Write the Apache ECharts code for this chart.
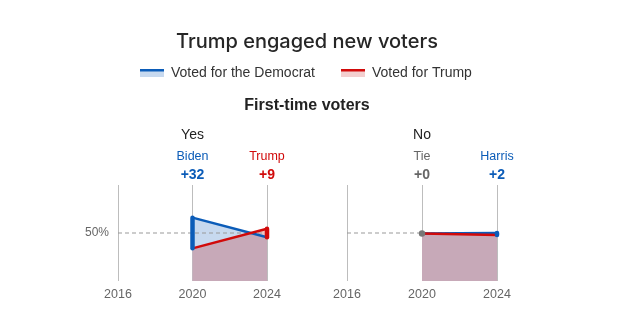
<!DOCTYPE html>
<html>
<head>
<meta charset="utf-8">
<script src="https://cdn.jsdelivr.net/npm/echarts@6/dist/echarts.min.js"></script>
<style>
  html, body { margin: 0; padding: 0; background: #fff; }
  #chart { width: 624px; height: 327px; }
</style>
</head>
<body>
<div id="chart"></div>
<script>
// Axis ticks and the election years that carry data
const axisYears = [2016, 2020, 2024];
const dataYears = [2020, 2024];

// Panel headings
const panelNames = ['Yes', 'No'];

// Vote share (%) of first-time voters, per panel, for 2020 and 2024
const demYes = [66, 45.5];
const repYes = [34, 54.5];
const demNo = [49.5, 50];
const repNo = [49.5, 48];

// Leading candidate named above each year
const leadersYes = ['Biden', 'Trump'];
const leadersNo = ['Tie', 'Harris'];

const BLUE = '#0b5cb8';
const RED = '#d10a0a';
const GRAY = '#777';
const FONT = '"Liberation Sans", Arial, sans-serif';
const HEAD_FONT = 'Inter, "Liberation Sans", Arial, sans-serif';

const panels = [
  { name: panelNames[0], dem: demYes, rep: repYes, leaders: leadersYes },
  { name: panelNames[1], dem: demNo, rep: repNo, leaders: leadersNo }
];

const grids = [
  { left: 118, top: 185, width: 149, height: 96 },
  { left: 347, top: 185, width: 150, height: 96 }
];

const xAxes = grids.map((g, i) => ({
  type: 'value', gridIndex: i, min: axisYears[0], max: axisYears[axisYears.length - 1], interval: 4,
  axisLine: { show: false }, axisTick: { show: false },
  splitLine: { show: true, lineStyle: { color: '#bdbdbd', width: 1 } },
  axisLabel: { formatter: v => String(v), color: '#666', fontSize: 12.5, fontFamily: FONT, margin: 7 }
}));

const yAxes = grids.map((g, i) => ({
  type: 'value', gridIndex: i, min: 0, max: 100, interval: 50,
  axisLine: { show: false }, axisTick: { show: false }, splitLine: { show: false },
  axisLabel: {
    show: i === 0, color: '#666', fontSize: 12, fontFamily: FONT, margin: 9,
    formatter: v => (v === 50 ? '50%' : '')
  }
}));

function winnerColor(d, r) {
  if (d > r) return BLUE;
  if (r > d) return RED;
  return GRAY;
}

const series = [];
panels.forEach((p, i) => {
  const pts = arr => dataYears.map((y, k) => [y, arr[k]]);
  // Democrat share area (light blue)
  series.push({
    type: 'line', xAxisIndex: i, yAxisIndex: i, data: pts(p.dem), symbol: 'none', z: 1,
    lineStyle: { width: 0, opacity: 0 }, areaStyle: { color: '#c7d9ef', opacity: 1 }, silent: true
  });
  // Trump share area (translucent red, mauve where it overlaps)
  series.push({
    type: 'line', xAxisIndex: i, yAxisIndex: i, data: pts(p.rep), symbol: 'none', z: 2,
    lineStyle: { width: 0, opacity: 0 }, areaStyle: { color: 'rgba(200,58,57,0.3)', opacity: 1 }, silent: true
  });
  // 50% reference
  series.push({
    type: 'line', xAxisIndex: i, yAxisIndex: i, data: [[axisYears[0], 50], [axisYears[2], 50]],
    symbol: 'none', z: 3, silent: true,
    lineStyle: { color: '#9a9a9a', width: 1.2, type: [4, 3] }
  });
  // Democrat line
  series.push({
    type: 'line', xAxisIndex: i, yAxisIndex: i, data: pts(p.dem), symbol: 'none', z: 4, silent: true,
    lineStyle: { color: BLUE, width: 2.5 }
  });
  // Trump line
  series.push({
    type: 'line', xAxisIndex: i, yAxisIndex: i, data: pts(p.rep), symbol: 'none', z: 5, silent: true,
    lineStyle: { color: RED, width: 2.5 }
  });
  // Margin bars, leader names, margins and panel heading
  series.push({
    type: 'custom', xAxisIndex: i, yAxisIndex: i, z: 6, silent: true,
    data: dataYears.map((y, k) => [y, p.dem[k], p.rep[k]]),
    renderItem: (params, api) => {
      const k = params.dataIndex;
      const x = api.value(0), d = api.value(1), r = api.value(2);
      const col = winnerColor(d, r);
      const a = api.coord([x, d]);
      const b = api.coord([x, r]);
      const top = api.coord([x, 100])[1];
      const margin = '+' + Math.round(Math.abs(d - r));
      const children = [];
      if (d === r) {
        children.push({ type: 'circle', shape: { cx: a[0], cy: a[1], r: 3.2 }, style: { fill: col } });
      } else {
        children.push({
          type: 'line', shape: { x1: a[0], y1: a[1], x2: b[0], y2: b[1] },
          style: { stroke: col, lineWidth: 4.5, lineCap: 'round' }
        });
      }
      children.push({
        type: 'text', x: a[0], y: top - 28,
        style: { text: p.leaders[k], fill: col === GRAY ? '#666' : col, font: '12.5px ' + FONT, align: 'center', verticalAlign: 'middle' }
      });
      children.push({
        type: 'text', x: a[0], y: top - 10,
        style: { text: margin, fill: col === GRAY ? '#666' : col, font: 'bold 14px ' + FONT, align: 'center', verticalAlign: 'middle' }
      });
      if (k === 0) {
        children.push({
          type: 'text', x: a[0], y: top - 50,
          style: { text: p.name, fill: '#222', font: '14px ' + FONT, align: 'center', verticalAlign: 'middle' }
        });
      }
      return { type: 'group', children };
    }
  });
});

const chart = echarts.init(document.getElementById('chart'), null, { renderer: 'canvas' });
chart.setOption({
  animation: false,
  backgroundColor: '#fff',
  grid: grids,
  xAxis: xAxes,
  yAxis: yAxes,
  series,
  graphic: [
    { type: 'text', x: 307, y: 42, style: { text: 'Trump engaged new voters', fill: '#262626', font: '500 20px ' + HEAD_FONT, align: 'center', verticalAlign: 'middle' } },
    // legend: Democrat
    { type: 'rect', shape: { x: 140, y: 69, width: 24, height: 8 }, style: { fill: '#c7d9ef' } },
    { type: 'rect', shape: { x: 140, y: 69, width: 24, height: 2.5 }, style: { fill: BLUE } },
    { type: 'text', x: 171, y: 73, style: { text: 'Voted for the Democrat', fill: '#333', font: '14px ' + FONT, verticalAlign: 'middle' } },
    // legend: Trump
    { type: 'rect', shape: { x: 341, y: 69, width: 24, height: 8 }, style: { fill: '#f3cfcf' } },
    { type: 'rect', shape: { x: 341, y: 69, width: 24, height: 2.5 }, style: { fill: RED } },
    { type: 'text', x: 372, y: 73, style: { text: 'Voted for Trump', fill: '#333', font: '14px ' + FONT, verticalAlign: 'middle' } },
    { type: 'text', x: 307, y: 106, style: { text: 'First-time voters', fill: '#222', font: 'bold 16px ' + FONT, align: 'center', verticalAlign: 'middle' } }
  ]
});
</script>
</body>
</html>
